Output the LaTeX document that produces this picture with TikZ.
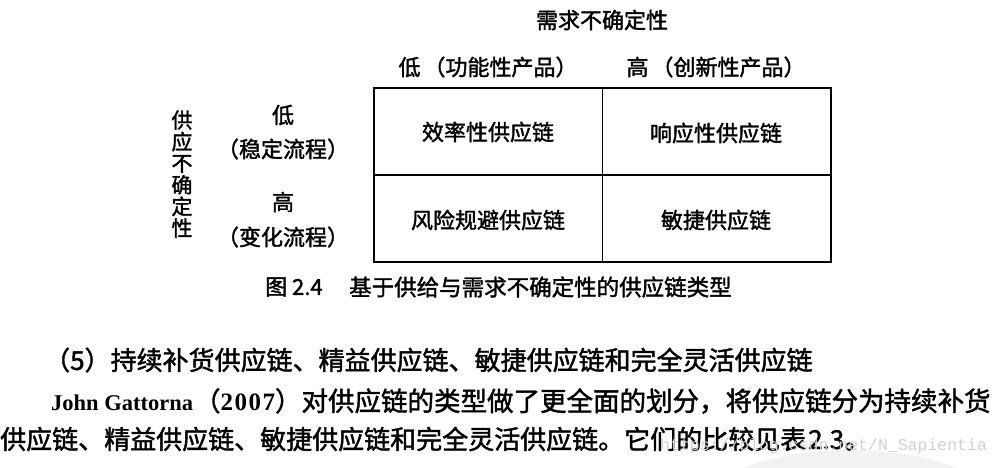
\documentclass[tikz,border=0pt]{standalone}
\usepackage{fontspec}
\setmainfont{Noto Sans CJK SC}[FakeBold=1.6]
\newfontfamily\latinserif{Liberation Serif}
\newfontfamily\wmfont{Liberation Mono}
\begin{document}
\begin{tikzpicture}[x=1pt,y=-1pt,
  txt/.style={inner sep=0pt, font=\fontsize{22}{24}\selectfont},
  body/.style={inner sep=0pt, anchor=west, font=\fontsize{26}{28}\selectfont},
  gridline/.style={line width=1.6pt},
  wm/.style={inner sep=0pt, anchor=west, text=black!18, font=\wmfont\fontsize{16.5}{18}\selectfont}]
\path[use as bounding box] (0,0) rectangle (1000,467);
% faint watermark blob
\begin{scope}
  \clip (0,0) rectangle (1000,467);
  \fill[black!5] (850,520) ellipse [x radius=160, y radius=70];
\end{scope}
% title and headers
\node[txt] (title) at (602,20) {需求不确定性};
\node[txt] (colA) at (488,67) {低\hspace{3pt}（功能性产品）};
\node[txt] (colB) at (716,67) {高\hspace{3pt}（创新性产品）};
% vertical axis label
\node[inner sep=0pt, align=center, font=\fontsize{21}{21.6}\selectfont] (vlab) at (182,174) {供\\应\\不\\确\\定\\性};
% row labels
\node[txt] (rowAlow) at (283,115) {低};
\node[txt] (rowAtxt) at (283,149) {（稳定流程）};
\node[txt] (rowBhigh) at (283,202) {高};
\node[txt] (rowBtxt) at (283,237) {（变化流程）};
% table
\node[draw, gridline, minimum width=457pt, minimum height=174pt, inner sep=0pt] (tbl) at (602.5,175) {};
\draw[gridline] (tbl.north) -- (tbl.south);
\draw[gridline] (tbl.west) -- (tbl.east);
\node[txt] (c11) at (488,132) {效率性供应链};
\node[txt] (c12) at (716,133) {响应性供应链};
\node[txt] (c21) at (488,220) {风险规避供应链};
\node[txt] (c22) at (716,220) {敏捷供应链};
% caption
\node[txt, anchor=west] (capnum) at (265,287) {图 2.4};
\node[txt, anchor=west, font=\fontsize{22.5}{24}\selectfont] (cap) at (349,287) {基于供给与需求不确定性的供应链类型};
% paragraph
\node[body] (line1) at (44,360) {（5）持续补货供应链、精益供应链、敏捷供应链和完全灵活供应链};
\node[body, font=\fontsize{26.5}{28}\selectfont] (line2) at (51,401) {{\latinserif\bfseries\fontsize{22.5}{24}\selectfont John Gattorna}\hspace{1pt}（{\latinserif\bfseries\fontsize{25}{26}\selectfont 2\hspace{1.5pt}0\hspace{1.5pt}0\hspace{1.5pt}7}）对供应链的类型做了更全面的划分，将供应链分为持续补货};
\node[body] (line3) at (0,439) {供应链、精益供应链、敏捷供应链和完全灵活供应链。它们的比较见表\hspace{2pt}2.3。};
\node[wm] (wmark) at (660,446) {https://blog.csdn.net/N\_Sapientia};
\end{tikzpicture}
\end{document}
